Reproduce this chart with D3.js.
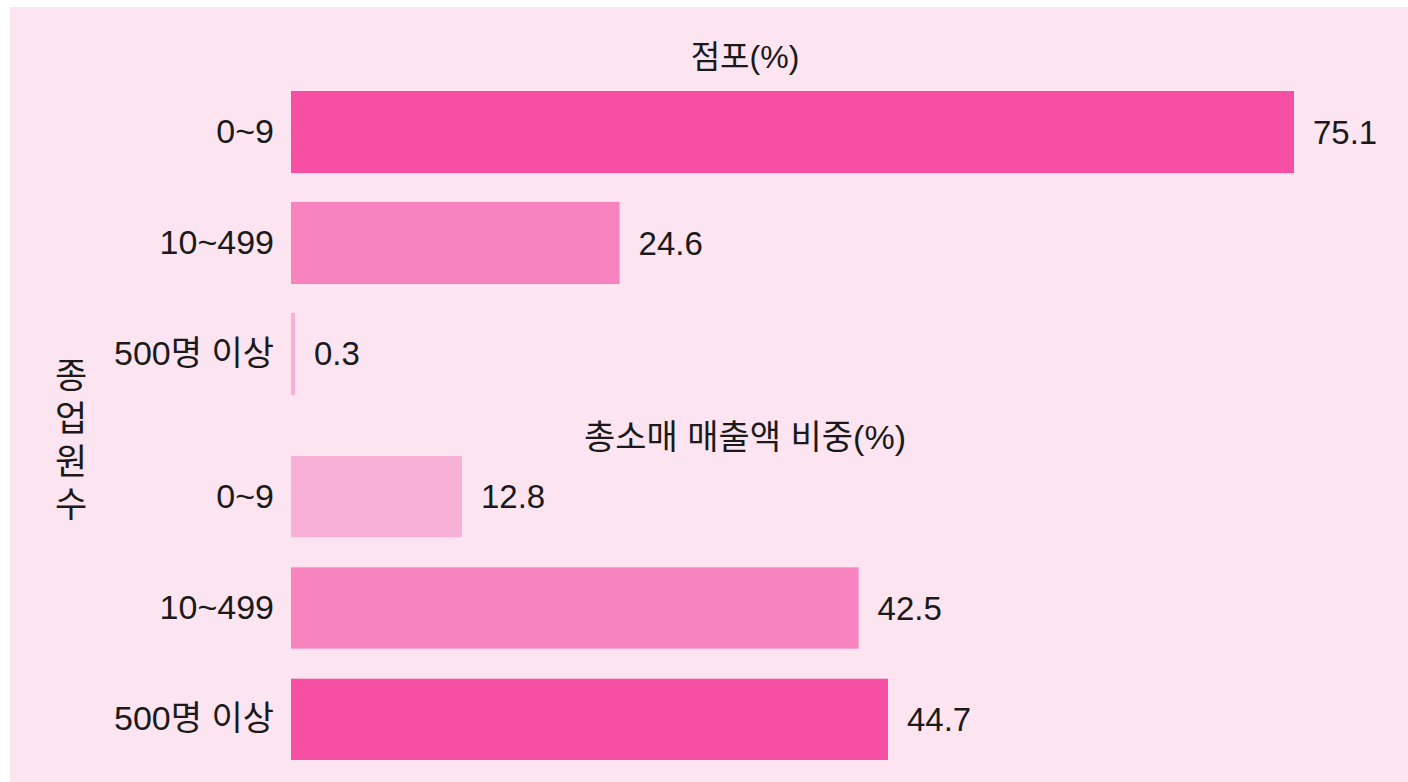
<!DOCTYPE html>
<html>
<head>
<meta charset="utf-8">
<script src="https://cdn.jsdelivr.net/npm/d3@7"></script>
<style>
  body { margin: 0; background: #ffffff; }
  text { font-family: "Liberation Sans", "Noto Sans CJK KR", sans-serif; fill: #1a1a1a; }
</style>
</head>
<body>
<div id="chart"></div>
<script>
// Data
const categories = ["0~9", "10~499", "500명 이상"];
const storeShare = [75.1, 24.6, 0.3];      // 점포(%)
const salesShare = [12.8, 42.5, 44.7];     // 총소매 매출액 비중(%)
const groupTitles = ["점포(%)", "총소매 매출액 비중(%)"];
const axisTitle = "종업원수";
const storeColors = ["#f74fa3", "#f783bf", "#f8b1d6"];
const salesColors = ["#f8b1d6", "#f783bf", "#f74fa3"];

const W = 1408, H = 782;

const svg = d3.select("#chart")
    .append("svg")
    .attr("width", W)
    .attr("height", H);

// pink panel
svg.append("rect")
    .attr("x", 10)
    .attr("y", 7)
    .attr("width", W - 10)
    .attr("height", H - 7)
    .style("fill", "#fce4f0");

// shared x scale
const x = d3.scaleLinear()
    .domain([0, 75.1])
    .range([291, 1294]);

// one band scale per group
const yTop = d3.scaleBand()
    .domain(categories)
    .range([91, 395])
    .paddingInner(0.26)
    .paddingOuter(0);

const yBottom = d3.scaleBand()
    .domain(categories)
    .range([456, 760])
    .paddingInner(0.27)
    .paddingOuter(0);

function drawGroup(values, colors, y, title, titleY, titleSize) {
    const data = categories.map((c, i) => ({ cat: c, value: values[i], color: colors[i] }));
    const g = svg.append("g");

    g.selectAll(".bar")
        .data(data)
        .enter()
        .append("rect")
        .attr("class", "bar")
        .attr("x", x(0))
        .attr("y", d => y(d.cat))
        .attr("width", d => x(d.value) - x(0))
        .attr("height", y.bandwidth())
        .style("fill", d => d.color);

    // category labels (y axis without line)
    const yAxis = d3.axisLeft(y)
        .tickSize(0)
        .tickPadding(17);

    const ax = g.append("g")
        .attr("transform", "translate(" + x(0) + ",0)")
        .call(yAxis);
    ax.select(".domain").remove();
    ax.selectAll("text")
        .style("font-size", "34px")
        .style("fill", "#1a1a1a");

    // value labels
    g.selectAll(".label")
        .data(data)
        .enter()
        .append("text")
        .attr("class", "label")
        .attr("x", d => x(d.value) + 19)
        .attr("y", d => y(d.cat) + y.bandwidth() / 2)
        .attr("dy", ".35em")
        .style("font-size", "33px")
        .text(d => d.value.toFixed(1));

    g.append("text")
        .attr("x", 745)
        .attr("y", titleY)
        .attr("text-anchor", "middle")
        .attr("dy", ".35em")
        .style("font-size", titleSize + "px")
        .text(title);
}

drawGroup(storeShare, storeColors, yTop, groupTitles[0], 57, 32);
drawGroup(salesShare, salesColors, yBottom, groupTitles[1], 437, 34);

// vertical axis title, stacked characters
svg.append("g")
    .selectAll("text")
    .data(axisTitle.split(""))
    .enter()
    .append("text")
    .attr("x", 71)
    .attr("y", (d, i) => 376 + i * 43)
    .attr("dy", ".35em")
    .attr("text-anchor", "middle")
    .style("font-size", "35px")
    .text(d => d);
</script>
</body>
</html>
